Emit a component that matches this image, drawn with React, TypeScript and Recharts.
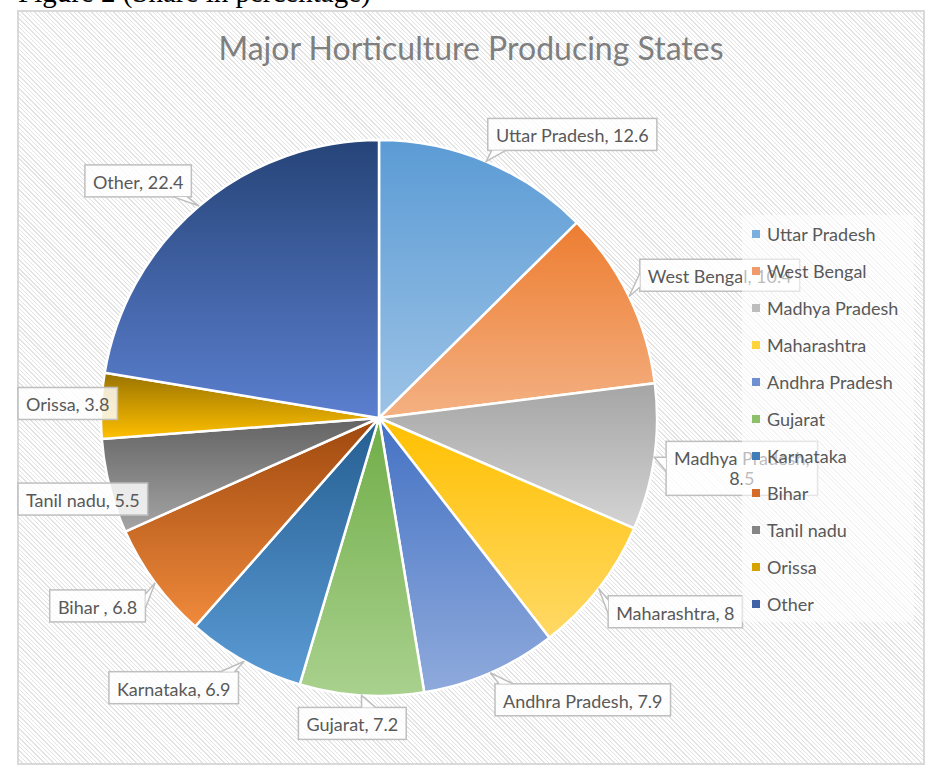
import React from "react";
import { Cell, Legend, Pie, PieChart } from "recharts";

// share of horticulture production, in percent
const states = [
  "Uttar Pradesh",
  "West Bengal",
  "Madhya Pradesh",
  "Maharashtra",
  "Andhra Pradesh",
  "Gujarat",
  "Karnataka",
  "Bihar ",
  "Tanil nadu",
  "Orissa",
  "Other",
];
const shares = [12.6, 10.4, 8.5, 8, 7.9, 7.2, 6.9, 6.8, 5.5, 3.8, 22.4];

// each slice fades from a darker top to a lighter bottom
const topColors = [
  "#5b9bd5",
  "#ed7d31",
  "#a5a5a5",
  "#ffc000",
  "#4472c4",
  "#70ad47",
  "#255e91",
  "#9e480e",
  "#636363",
  "#997300",
  "#264478",
];
const bottomColors = [
  "#9dc3e6",
  "#f4b183",
  "#d4d4d4",
  "#ffd966",
  "#8faadc",
  "#a9d18e",
  "#5b9bd5",
  "#f08a3c",
  "#a5a5a5",
  "#ffc000",
  "#5b7fcf",
];
const legendColors = [
  "#7aaede",
  "#f0996a",
  "#bdbdbd",
  "#ffd43a",
  "#6e8fd2",
  "#8cc06a",
  "#3f7db8",
  "#d46c28",
  "#858585",
  "#d6a200",
  "#3f62a6",
];

const data = states.map((name, i) => ({ name, value: shares[i] }));

const RAD = Math.PI / 180;
const FONT = "Lato, 'Open Sans', sans-serif";
const LABEL_SIZE = 18;
const TEXT_GREY = "#595959";
const FRAME_LEFT = 18;

let measureCtx: CanvasRenderingContext2D | null = null;
function textWidth(s: string): number {
  if (!measureCtx) measureCtx = document.createElement("canvas").getContext("2d");
  if (!measureCtx) return s.length * 8.5;
  measureCtx.font = `${LABEL_SIZE}px Lato`;
  return measureCtx.measureText(s).width;
}

const clamp = (v: number, lo: number, hi: number) => Math.max(lo, Math.min(hi, v));

function CalloutLabel(props: any) {
  const { cx, cy, midAngle, outerRadius, name, value, index } = props;
  const dx = Math.cos(-midAngle * RAD);
  const dy = Math.sin(-midAngle * RAD);
  const px = cx + outerRadius * dx;
  const py = cy + outerRadius * dy;
  const lx = cx + (outerRadius + 12) * dx;
  const ly = cy + (outerRadius + 12) * dy;
  const kx = clamp(dx * 2.5, -1, 1);
  const ky = clamp(dy * 2.5, -1, 1);

  let lines = [`${name}, ${value}`];
  let w = textWidth(lines[0]) + 16;
  if (lx + ((kx + 1) * w) / 2 > 830) {
    lines = [`${name},`, `${value}`];
    w = Math.max(...lines.map(textWidth)) + 16;
  }
  const h = lines.length === 1 ? 32 : 54;
  const left = Math.max(FRAME_LEFT, lx + (kx * w) / 2 - w / 2);
  const top = ly + (ky * h) / 2 - h / 2;
  const right = left + w;
  const bottom = top + h;

  // pointer from the box to the slice edge
  const nx = clamp(px, left, right);
  const ny = clamp(py, top, bottom);
  const offX = Math.abs(px - nx);
  const offY = Math.abs(py - ny);
  let wedge: number[][] | null = null;
  if (offX > 3 || offY > 3) {
    if (offY >= offX) {
      const bx = clamp(nx, left + 4, right - 18);
      wedge = [
        [bx, ny],
        [px, py],
        [bx + 14, ny],
      ];
    } else {
      const by = clamp(ny, top + 4, bottom - 18);
      wedge = [
        [nx, by],
        [px, py],
        [nx, by + 14],
      ];
    }
  }

  return (
    <g key={`lbl-${index}`}>
      <rect
        x={left}
        y={top}
        width={w}
        height={h}
        fill="#ffffff"
        fillOpacity={0.82}
        stroke="#bfbfbf"
        strokeWidth={1.5}
      />
      {wedge && (
        <>
          <polygon
            points={wedge.map((p) => p.join(",")).join(" ")}
            fill="#ffffff"
            fillOpacity={0.9}
            stroke="none"
          />
          <polyline
            points={wedge.map((p) => p.join(",")).join(" ")}
            fill="none"
            stroke="#bfbfbf"
            strokeWidth={1.5}
          />
        </>
      )}
      {lines.map((line, i) => (
        <text
          key={i}
          x={left + w / 2}
          y={top + 17 + i * 20}
          textAnchor="middle"
          dominantBaseline="central"
          fontFamily={FONT}
          fontSize={LABEL_SIZE}
          fill={TEXT_GREY}
        >
          {line}
        </text>
      ))}
    </g>
  );
}

// legend keeps the data order (the default sorts items by name)
function LegendBox() {
  return (
    <div
      style={{
        width: 172,
        height: 407,
        background: "rgba(255,255,255,0.6)",
        fontFamily: FONT,
      }}
    >
      {data.map((item, i) => (
        <div
          key={i}
          style={{
            height: 37,
            display: "flex",
            alignItems: "center",
            paddingLeft: 10,
          }}
        >
          <span
            style={{
              width: 8,
              height: 8,
              background: legendColors[i],
              marginRight: 7,
              flex: "none",
            }}
          />
          <span style={{ fontSize: 18, color: TEXT_GREY, whiteSpace: "nowrap" }}>
            {item.name}
          </span>
        </div>
      ))}
    </div>
  );
}

export default function App(): React.ReactElement {
  return (
    <div
      style={{
        position: "fixed",
        left: 0,
        top: 0,
        width: 937,
        height: 779,
        overflow: "hidden",
        background: "#ffffff",
      }}
    >
      <div
        style={{
          position: "absolute",
          left: 18,
          top: -24,
          fontFamily: "'Liberation Serif', serif",
          fontSize: 29,
          color: "#000",
          whiteSpace: "nowrap",
        }}
      >
        Figure 2 (Share in percentage)
      </div>
      <div
        style={{
          position: "absolute",
          left: 17,
          top: 10,
          width: 908,
          height: 755,
          boxSizing: "border-box",
          border: "2px solid #d9d9d9",
          background:
            "repeating-linear-gradient(45deg, #ffffff 0px, #ffffff 2.1px, #e3e3e3 2.1px, #e3e3e3 3.1px)",
        }}
      />
      <div
        style={{
          position: "absolute",
          left: 18,
          width: 906,
          top: 28,
          textAlign: "center",
          fontFamily: FONT,
          fontSize: 32,
          color: "#7f7f7f",
          whiteSpace: "nowrap",
        }}
      >
        Major Horticulture Producing States
      </div>
      <div style={{ position: "absolute", left: 0, top: 0 }}>
        <PieChart
          width={937}
          height={779}
          margin={{ top: 0, right: 0, bottom: 0, left: 0 }}
        >
          <defs>
            {topColors.map((c, i) => (
              <linearGradient key={i} id={`slice-${i}`} x1="0" y1="0" x2="0" y2="1">
                <stop offset="0%" stopColor={c} />
                <stop offset="100%" stopColor={bottomColors[i]} />
              </linearGradient>
            ))}
          </defs>
          <Pie
            data={data}
            dataKey="value"
            nameKey="name"
            cx={379}
            cy={418}
            outerRadius={278}
            startAngle={90}
            endAngle={-270}
            stroke="#ffffff"
            strokeWidth={2.5}
            label={CalloutLabel}
            labelLine={false}
            isAnimationActive={false}
          >
            {data.map((_, i) => (
              <Cell key={i} fill={`url(#slice-${i})`} />
            ))}
          </Pie>
          <Legend
            layout="vertical"
            align="right"
            verticalAlign="top"
            content={LegendBox}
            wrapperStyle={{ left: 742, top: 215, width: 172, height: 407 }}
          />
        </PieChart>
      </div>
    </div>
  );
}
